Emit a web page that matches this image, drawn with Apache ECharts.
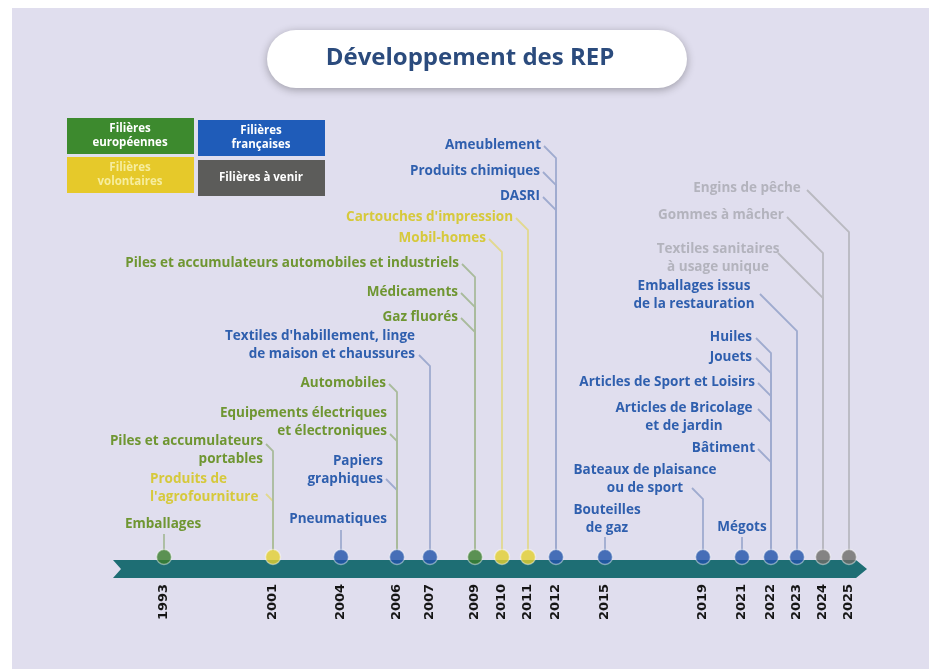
<!DOCTYPE html>
<html>
<head>
<meta charset="utf-8">
<title>Développement des REP</title>
<script src="https://cdn.jsdelivr.net/npm/echarts@6/dist/echarts.min.js"></script>
<style>
  html, body { margin: 0; padding: 0; background: #ffffff; }
  #chart { width: 929px; height: 669px; }
</style>
</head>
<body>
<div id="chart"></div>
<script>
// --- données ---
const years = ['1993', '2001', '2004', '2006', '2007', '2009', '2010', '2011', '2012', '2015', '2019', '2021', '2022', '2023', '2024', '2025']
const yearGroups = ['eu', 'vol', 'fr', 'fr', 'fr', 'eu', 'vol', 'vol', 'fr', 'fr', 'fr', 'fr', 'fr', 'fr', 'todo', 'todo']

const filieres = [
  'Emballages',
  'Produits de\nl\'agrofourniture',
  'Piles et accumulateurs\nportables',
  'Pneumatiques',
  'Papiers\ngraphiques',
  'Equipements électriques\net électroniques',
  'Automobiles',
  'Textiles d\'habillement, linge\nde maison et chaussures',
  'Gaz fluorés',
  'Médicaments',
  'Piles et accumulateurs automobiles et industriels',
  'Mobil-homes',
  'Cartouches d\'impression',
  'DASRI',
  'Produits chimiques',
  'Ameublement',
  'Bouteilles\nde gaz',
  'Bateaux de plaisance\nou de sport',
  'Mégots',
  'Bâtiment',
  'Articles de Bricolage\net de jardin',
  'Articles de Sport et Loisirs',
  'Jouets',
  'Huiles',
  'Emballages issus\nde la restauration',
  'Textiles sanitaires\nà usage unique',
  'Gommes à mâcher',
  'Engins de pêche'
]
const filiereYears = ['1993', '2001', '2001', '2004', '2006', '2006', '2006', '2007', '2009', '2009', '2009', '2010', '2011', '2012', '2012', '2012',
  '2015', '2019', '2021', '2022', '2022', '2022', '2022', '2022', '2023', '2024', '2024', '2025']
const filiereGroups = ['eu', 'vol', 'eu', 'fr', 'fr', 'eu', 'eu', 'fr', 'eu', 'eu', 'eu', 'vol', 'vol', 'fr', 'fr', 'fr',
  'fr', 'fr', 'fr', 'fr', 'fr', 'fr', 'fr', 'fr', 'fr', 'todo', 'todo', 'todo']

const groupKeys = ['eu', 'fr', 'vol', 'todo']
const groupNames = ['Filières\neuropéennes', 'Filières\nfrançaises', 'Filières\nvolontaires', 'Filières à venir']

// --- mise en page (pixels) ---
const yearX = [164, 273, 341, 397, 430, 475, 502, 528, 556, 605, 703, 742, 771, 797, 823, 849]
const dotY = 557
const yearLabelY = 602
// [x texte, y texte, alignement, départ du trait x, départ du trait y]
const labelPos = [
  [163, 524, 'center', 164, 534],
  [150, 488, 'left', 266, 494],
  [263, 450, 'right', 266, 444],
  [338, 519, 'center', 341, 530],
  [383, 470, 'right', 386, 479],
  [387, 422, 'right', 390, 434],
  [386, 383, 'right', 389, 384],
  [415, 345, 'right', 419, 355],
  [458, 317, 'right', 461, 318],
  [458, 292, 'right', 461, 293],
  [459, 263, 'right', 462, 264],
  [486, 238, 'right', 489, 239],
  [513, 217, 'right', 516, 218],
  [540, 196, 'right', 543, 197],
  [540, 171, 'right', 543, 172],
  [541, 145, 'right', 544, 146],
  [607, 519, 'center', 605, 537],
  [645, 479, 'center', 692, 488],
  [742, 527, 'center', 742, 537],
  [755, 448, 'right', 758, 449],
  [684, 417, 'center', 758, 409],
  [755, 382, 'right', 758, 383],
  [752, 357, 'right', 756, 358],
  [752, 337, 'right', 756, 338],
  [694, 295, 'center', 760, 294],
  [718, 258, 'center', 778, 253],
  [721, 215, 'center', 787, 217],
  [747, 188, 'center', 807, 190]
]

const dotColors = { eu: '#3a7d2c', fr: '#1f51a9', vol: '#e3cf2e', todo: '#6d6b68' }
const lineColors = { eu: '#a9bb9c', fr: '#9fabcf', vol: '#e2d98f', todo: '#b9b9c0' }
const textColors = { eu: '#6f9632', fr: '#2f5fae', vol: '#d6c93c', todo: '#b3b3bd' }
const boxColors = { eu: '#3d8a2e', fr: '#1f5cb9', vol: '#e6c92a', todo: '#5c5c5a' }
const boxText = { eu: '#ffffff', fr: '#ffffff', vol: '#f6ed9e', todo: '#ffffff' }
const labelFont = '700 13.5px "Open Sans", sans-serif'

const chart = echarts.init(document.getElementById('chart'))

// légende en 4 cases
const legendBoxes = [[67, 118], [198, 120], [67, 157], [198, 160]]
const legendGraphics = []
groupKeys.forEach((k, i) => {
  const [x, y] = legendBoxes[i]
  legendGraphics.push({
    type: 'rect', shape: { x, y, width: 127, height: 36 },
    style: { fill: boxColors[k] }
  })
  legendGraphics.push({
    type: 'text', x: x + 63, y: y + 18,
    style: {
      text: groupNames[i], fill: boxText[k], align: 'center', verticalAlign: 'middle',
      font: '700 11.5px "Open Sans", sans-serif', lineHeight: 14
    }
  })
})

const option = {
  animation: false,
  backgroundColor: '#ffffff',
  grid: { left: 0, right: 0, top: 0, bottom: 0 },
  xAxis: { type: 'value', min: 0, max: 929, show: false },
  yAxis: { type: 'value', min: 0, max: 669, inverse: true, show: false },
  graphic: [
    { type: 'rect', shape: { x: 12, y: 8, width: 917, height: 661 }, style: { fill: '#e0deee' }, z: -10 },
    {
      type: 'rect', shape: { x: 267, y: 30, width: 420, height: 58, r: 29 },
      style: { fill: '#ffffff', shadowBlur: 8, shadowColor: 'rgba(0,0,0,0.3)', shadowOffsetY: 2 }
    },
    {
      type: 'text', x: 470, y: 58,
      style: {
        text: 'Développement des REP', fill: '#2b4b7d', align: 'center', verticalAlign: 'middle',
        font: '700 24px "Open Sans", sans-serif'
      }
    },
    // ruban de la frise
    {
      type: 'polygon',
      shape: { points: [[113, 560], [856, 560], [867, 569], [856, 578], [113, 578], [121, 569]] },
      style: { fill: '#1e6e74' }
    },
    ...legendGraphics
  ],
  series: [
    {
      // traits de rappel
      type: 'custom',
      coordinateSystem: 'cartesian2d',
      data: filieres.map((_, i) => [i]),
      renderItem: (params, api) => {
        const i = api.value(0)
        const p = labelPos[i]
        const stop = yearX[years.indexOf(filiereYears[i])]
        const pts = [[p[3], p[4]]]
        if (Math.abs(stop - p[3]) > 1) pts.push([stop, p[4] + Math.abs(stop - p[3])])
        pts.push([stop, dotY - 6])
        return {
          type: 'polyline',
          shape: { points: pts.map(q => api.coord(q)) },
          style: { stroke: lineColors[filiereGroups[i]], lineWidth: 1.8, fill: null }
        }
      },
      z: 2
    },
    {
      // noms des filières
      type: 'custom',
      coordinateSystem: 'cartesian2d',
      data: filieres.map((_, i) => [i]),
      renderItem: (params, api) => {
        const i = api.value(0)
        const p = labelPos[i]
        const c = api.coord([p[0], p[1]])
        return {
          type: 'text', x: c[0], y: c[1],
          style: {
            text: filieres[i], fill: textColors[filiereGroups[i]], align: p[2], verticalAlign: 'middle',
            font: labelFont, lineHeight: 18
          }
        }
      },
      z: 3
    },
    {
      // pastilles
      type: 'scatter',
      symbolSize: 15,
      data: years.map((y, i) => ({
        value: [yearX[i], dotY],
        itemStyle: { color: dotColors[yearGroups[i]], borderColor: 'rgba(255,255,255,0.55)', borderWidth: 1.5 }
      })),
      z: 4
    },
    {
      // années
      type: 'custom',
      coordinateSystem: 'cartesian2d',
      data: years.map((y, i) => [i]),
      renderItem: (params, api) => {
        const i = api.value(0)
        const c = api.coord([yearX[i], yearLabelY])
        return {
          type: 'text', x: c[0], y: c[1], rotation: Math.PI / 2,
          style: {
            text: years[i], fill: '#151515', align: 'center', verticalAlign: 'middle',
            font: '700 13px "DejaVu Sans", sans-serif'
          }
        }
      },
      z: 3
    }
  ]
}

chart.setOption(option)
</script>
</body>
</html>
